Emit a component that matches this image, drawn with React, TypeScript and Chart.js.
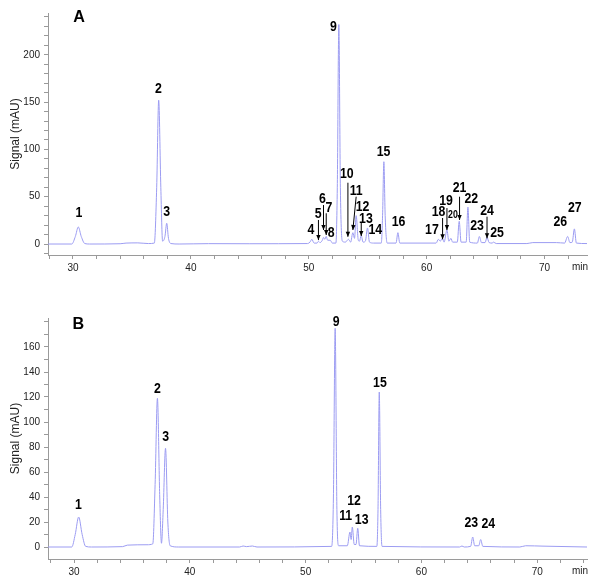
import React, { useEffect, useRef } from "react";
import { Chart, registerables } from "chart.js";
Chart.register(...registerables);

const FONT = "'Liberation Sans', Arial, Helvetica, sans-serif";
const TRACE_COLOR = "#9c9cf2";

// ---------- Panel A trace (time in min, signal in mAU) ----------
const timesA = [
  27.85, 29.9, 30.2, 30.45, 30.7, 31.0, 31.4, 34.0, 34.5, 35.5, 36.4, 36.9, 37.1, 37.27, 37.45, 37.6,
  37.8, 37.95, 38.1, 38.3, 39.0, 41.5, 45.0, 49.9, 50.1, 50.26, 50.45, 50.7, 50.83, 50.95, 51.15, 51.25,
  51.35, 51.48, 51.6, 51.82, 52.0, 52.3, 52.42, 52.55, 52.68, 52.85, 53.1, 53.37, 53.55, 53.74, 53.88, 54.02,
  54.2, 54.3, 54.45, 54.6, 54.8, 54.98, 55.15, 55.5, 56.15, 56.26, 56.37, 56.48, 56.65, 57.4, 57.56, 57.72,
  60.8, 61.0, 61.15, 61.33, 61.48, 61.72, 61.88, 62.06, 62.2, 62.6, 62.76, 62.92, 63.35, 63.5, 63.65, 64.3,
  64.47, 64.65, 64.95, 65.12, 65.3, 65.55, 65.67, 65.9, 68.5, 69.0, 71.0, 71.7, 71.96, 72.15, 72.35, 72.53,
  72.7, 73.6,
];
const signalA = [
  0, 0, 8, 18, 8, 0.5, 0, 0.3, 1, 1.2, 0.5, 1, 60, 152, 60, 3,
  8, 22, 6, 0.5, 0, 0.4, 0.3, 0.5, 2, 5, 1, 1, 3, 1.5, 4, 7,
  5, 8, 4, 4, 1, 1, 60, 232, 60, 3, 2, 5, 2, 12, 6, 30,
  4, 3, 9, 2, 3, 17, 2, 1, 1, 30, 87, 30, 1, 1, 12, 1,
  1, 5, 3, 6, 2, 15, 3, 6, 2, 2, 24, 2, 2, 39, 2, 1,
  8, 1.5, 1.5, 7, 1.5, 1, 2, 0.5, 0.5, 1.5, 1.5, 1, 8, 1.5, 2, 16,
  1, 0.5,
];

// ---------- Panel B trace ----------
const timesB = [
  27.75, 29.8, 30.1, 30.4, 30.7, 31.0, 31.5, 34.2, 34.6, 36.3, 36.8, 37.0, 37.2, 37.4, 37.55, 37.7,
  37.9, 38.1, 38.3, 39.0, 44.3, 44.6, 44.9, 45.4, 45.8, 52.25, 52.4, 52.55, 52.7, 52.85, 53.6, 53.83,
  53.93, 54.03, 54.2, 54.35, 54.5, 54.65, 56.15, 56.25, 56.36, 56.48, 56.6, 63.3, 63.5, 63.7, 64.25, 64.43,
  64.6, 64.95, 65.12, 65.3, 68.5, 69.0, 70.5, 74.3,
];
const signalB = [
  0, 0, 10, 24, 10, 0.5, 0, 0.3, 1.5, 1.8, 2.5, 50, 119, 40, 3, 30,
  79, 20, 1, 0, 0, 0.8, 0.3, 0.8, 0, 0.5, 40, 175, 30, 1, 1, 12,
  6, 16, 2, 2, 15, 1, 0.5, 30, 124, 30, 0.5, 0, 0.8, 0, 0.5, 8,
  1, 1, 6, 0.5, 0, 1, 0.7, 0,
];

// ---------- Axis ticks ----------
const xTicksA = [28, 30, 32, 34, 36, 38, 40, 42, 44, 46, 48, 50, 52, 54, 56, 58, 60, 62, 64, 66, 68, 70, 72];
const xTicksB = [28, 30, 32, 34, 36, 38, 40, 42, 44, 46, 48, 50, 52, 54, 56, 58, 60, 62, 64, 66, 68, 70, 72, 74];
const xLabelTicks = [30, 40, 50, 60, 70];
const yTicksA = [-10, 0, 10, 20, 30, 40, 50, 60, 70, 80, 90, 100, 110, 120, 130, 140, 150, 160, 170, 180, 190, 200, 210, 220, 230, 240];
const yLabelTicksA = [0, 50, 100, 150, 200];
const yTicksB = [0, 10, 20, 30, 40, 50, 60, 70, 80, 90, 100, 110, 120, 130, 140, 150, 160, 170, 180];
const yLabelTicksB = [0, 20, 40, 60, 80, 100, 120, 140, 160];

// ---------- Peak labels (anchor in data units) ----------
const peakNamesA = ["1", "2", "3", "4", "5", "6", "7", "8", "9", "10", "11", "12", "13", "14", "15", "16", "17", "18", "19", "20", "21", "22", "23", "24", "25", "26", "27"];
const peakLabelTA = [30.51, 37.24, 37.95, 50.18, 50.8, 51.16, 51.71, 51.9, 52.1, 53.23, 54.02, 54.56, 54.85, 55.64, 56.34, 57.61, 60.45, 61.01, 61.64, 62.23, 62.79, 63.79, 64.27, 65.12, 65.97, 71.34, 72.56];
const peakLabelVA = [32.5, 163.5, 34.1, 14.8, 31.4, 47.3, 37.7, 11.3, 229, 73.7, 56, 38.8, 26.7, 14.8, 97.6, 22.9, 14.8, 33.5, 45.8, 30.7, 59.5, 47.3, 19.3, 35.2, 11.3, 23.6, 37.7];

const peakNamesB = ["1", "2", "3", "9", "15", "11", "12", "13", "23", "24"];
const peakLabelTB = [30.37, 37.19, 37.92, 52.63, 56.42, 53.46, 54.18, 54.84, 64.31, 65.78];
const peakLabelVB = [33.6, 126.2, 87.8, 180.2, 131.4, 24.8, 37, 21.6, 19, 18.4];

// ---------- Arrows in panel A (from -> to, data units) ----------
const arrowFromTA = [50.82, 51.25, 51.48, 53.32, 54.02, 54.45, 61.35, 61.72, 62.79, 65.12];
const arrowFromVA = [25.4, 41.2, 32.5, 64.8, 50, 22.2, 27.5, 38, 50, 28.9];
const arrowToTA = [50.82, 51.25, 51.48, 53.32, 53.74, 54.45, 61.35, 61.72, 62.79, 65.12];
const arrowToVA = [4.2, 14.8, 9.5, 7.7, 14.8, 8.5, 5, 14.8, 25.4, 6];

type PanelCfg = {
  letter: string;
  letterT: number;
  letterV: number;
  times: number[];
  signal: number[];
  xMin: number;
  xMax: number;
  yMin: number;
  yMax: number;
  xTicks: number[];
  yTicks: number[];
  yLabels: number[];
  names: string[];
  labT: number[];
  labV: number[];
  arrows: boolean;
  height: number;
  padTop: number;
  xAxisH: number;
};

const panels: PanelCfg[] = [
  {
    letter: "A", letterT: 30.51, letterV: 240,
    times: timesA, signal: signalA,
    xMin: 27.88, xMax: 73.6, yMin: -11.6, yMax: 244.2,
    xTicks: xTicksA, yTicks: yTicksA, yLabels: yLabelTicksA,
    names: peakNamesA, labT: peakLabelTA, labV: peakLabelVA, arrows: true,
    height: 290, padTop: 13, xAxisH: 35,
  },
  {
    letter: "B", letterT: 30.37, letterV: 178.4,
    times: timesB, signal: signalB,
    xMin: 27.75, xMax: 74.3, yMin: -9.6, yMax: 183.2,
    xTicks: xTicksB, yTicks: yTicksB, yLabels: yLabelTicksB,
    names: peakNamesB, labT: peakLabelTB, labV: peakLabelVB, arrows: false,
    height: 294, padTop: 28, xAxisH: 25,
  },
];

function drawArrow(ctx: CanvasRenderingContext2D, x1: number, y1: number, x2: number, y2: number) {
  ctx.beginPath();
  ctx.moveTo(x1, y1);
  ctx.lineTo(x2, y2);
  ctx.stroke();
  const ang = Math.atan2(y2 - y1, x2 - x1);
  const len = 5;
  const w = 2.2;
  ctx.beginPath();
  ctx.moveTo(x2, y2);
  ctx.lineTo(x2 - len * Math.cos(ang) + w * Math.sin(ang), y2 - len * Math.sin(ang) - w * Math.cos(ang));
  ctx.lineTo(x2 - len * Math.cos(ang) - w * Math.sin(ang), y2 - len * Math.sin(ang) + w * Math.cos(ang));
  ctx.closePath();
  ctx.fill();
}

function squeezedText(ctx: CanvasRenderingContext2D, text: string, x: number, y: number, sx: number) {
  ctx.save();
  ctx.translate(x, y);
  ctx.scale(sx, 1);
  ctx.fillText(text, 0, 0);
  ctx.restore();
}

function Panel({ cfg }: { cfg: PanelCfg }) {
  const ref = useRef<HTMLCanvasElement>(null);
  useEffect(() => {
    if (!ref.current) return;
    const data = cfg.times.map((t, i) => ({ x: t, y: cfg.signal[i] }));
    const annot = {
      id: "annot",
      afterDatasetsDraw(chart: any) {
        const ctx = chart.ctx as CanvasRenderingContext2D;
        const xs = chart.scales.x;
        const ys = chart.scales.y;
        ctx.save();
        ctx.fillStyle = "#000";
        ctx.strokeStyle = "#000";
        ctx.textAlign = "center";
        ctx.textBaseline = "middle";
        // panel letter
        ctx.font = `bold 17px ${FONT}`;
        squeezedText(ctx, cfg.letter, xs.getPixelForValue(cfg.letterT), ys.getPixelForValue(cfg.letterV), 0.95);
        // peak labels
        cfg.names.forEach((n, i) => {
          ctx.font = n === "20" && cfg.arrows ? `bold 10px ${FONT}` : `bold 14px ${FONT}`;
          squeezedText(ctx, n, xs.getPixelForValue(cfg.labT[i]), ys.getPixelForValue(cfg.labV[i]), 0.88);
        });
        if (cfg.arrows) {
          ctx.lineWidth = 1;
          arrowFromTA.forEach((t, i) => {
            drawArrow(
              ctx,
              xs.getPixelForValue(t),
              ys.getPixelForValue(arrowFromVA[i]),
              xs.getPixelForValue(arrowToTA[i]),
              ys.getPixelForValue(arrowToVA[i])
            );
          });
        }
        // unit label at the end of the x axis
        ctx.font = `10px ${FONT}`;
        ctx.fillStyle = "#222";
        ctx.fillText("min", xs.right - 7, chart.chartArea.bottom + 12);
        ctx.restore();
      },
    };
    const chart = new Chart(ref.current, {
      type: "line",
      data: {
        datasets: [
          {
            data,
            borderColor: TRACE_COLOR,
            borderWidth: 1,
            pointRadius: 0,
            cubicInterpolationMode: "monotone",
            fill: false,
          },
        ],
      },
      options: {
        responsive: false,
        animation: false,
        devicePixelRatio: 1,
        layout: { padding: { top: cfg.padTop, right: 13, left: 0, bottom: 0 } },
        plugins: { legend: { display: false }, tooltip: { enabled: false } },
        scales: {
          x: {
            type: "linear",
            min: cfg.xMin,
            max: cfg.xMax,
            afterBuildTicks: (s: any) => {
              s.ticks = cfg.xTicks.map((v) => ({ value: v }));
            },
            afterFit: (s: any) => {
              s.height = cfg.xAxisH;
            },
            ticks: {
              autoSkip: false,
              maxRotation: 0,
              padding: 3,
              color: "#222",
              font: { family: FONT, size: 10 },
              callback: (v: any) => (xLabelTicks.includes(Number(v)) ? String(v) : ""),
            },
            grid: { drawOnChartArea: false, drawTicks: true, tickLength: 4, color: "#9a9a9a" },
            border: { color: "#9a9a9a" },
          },
          y: {
            type: "linear",
            min: cfg.yMin,
            max: cfg.yMax,
            afterBuildTicks: (s: any) => {
              s.ticks = cfg.yTicks.map((v) => ({ value: v }));
            },
            afterFit: (s: any) => {
              s.width = 48;
            },
            ticks: {
              autoSkip: false,
              padding: 4,
              color: "#222",
              font: { family: FONT, size: 10 },
              callback: (v: any) => (cfg.yLabels.includes(Number(v)) ? String(v) : ""),
            },
            grid: { drawOnChartArea: false, drawTicks: true, tickLength: 4, color: "#9a9a9a" },
            border: { color: "#9a9a9a" },
            title: {
              display: true,
              text: "Signal (mAU)",
              color: "#222",
              font: { family: FONT, size: 12 },
              padding: { top: 8, bottom: 0 },
            },
          },
        },
      },
      plugins: [annot],
    } as any);
    return () => chart.destroy();
  }, [cfg]);
  return <canvas ref={ref} width={600} height={cfg.height} style={{ display: "block" }} />;
}

export default function App() {
  return (
    <div style={{ position: "absolute", left: 0, top: 0, width: 600, height: 584, background: "#fff" }}>
      <Panel cfg={panels[0]} />
      <Panel cfg={panels[1]} />
    </div>
  );
}
